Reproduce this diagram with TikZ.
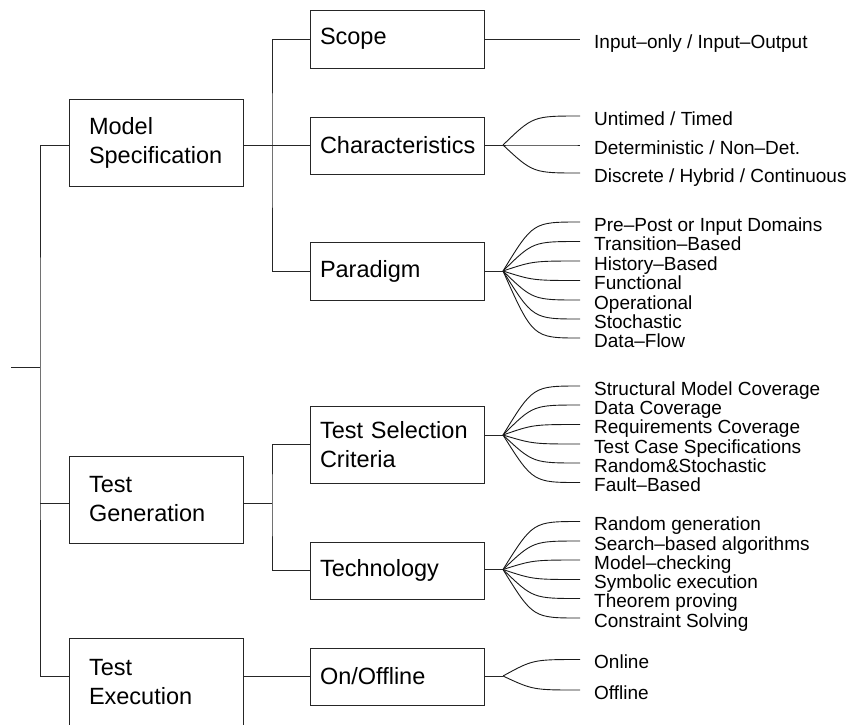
\documentclass[tikz,border=0pt]{standalone}
\usepackage{fontspec}
\setmainfont{Liberation Sans}
\usetikzlibrary{calc}
\tikzset{
  topbox/.style={draw=black!85, line width=1pt, minimum width=174pt, minimum height=87pt,
    text width=134pt, inner xsep=20pt, align=left, font=\fontsize{23.5}{29}\selectfont},
  subbox/.style={draw=black!85, line width=1pt, minimum width=174pt, minimum height=58pt,
    text width=154pt, inner xsep=10pt, align=left, font=\fontsize{23.5}{29}\selectfont},
  leaf/.style={anchor=west, inner xsep=14pt, inner ysep=0pt, text height=18pt, text depth=0pt,
    font=\fontsize{19}{22}\selectfont},
  wire/.style={draw=black!85, line width=1pt},
  fanline/.style={draw=black!90, line width=0.9pt},
}
\begin{document}
\begin{tikzpicture}[x=1pt, y=-1pt]

\newcommand\LEAFX{580}
\newcommand\BEND{30}

\useasboundingbox (0,0) rectangle (853,724);

%% main boxes
\node[topbox] (ms) at (156,142.5) {Model\\Specification};
\node[topbox] (tg) at (156,499.5) {Test\\Generation};
\node[topbox, minimum height=88pt] (te) at (156,682) {Test\\Execution};

%% second level
\node[subbox] (scope) at (397,39) {Scope};
\node[subbox, minimum height=57pt] (chars) at (397,145.5) {Characteristics};
\node[subbox] (para) at (397,271) {Paradigm};
\node[subbox, minimum height=77pt] (tsc) at (397,444.5) {Test Selection\\Criteria};
\node[subbox, minimum height=57pt] (tech) at (397,570.5) {Technology};
\node[subbox, minimum height=57pt] (onoff) at (397,676.5) {On/Offline};

%% trunk
\coordinate (root) at (11,367);
\coordinate (trunk) at (40,367);
\draw[wire] (root) -- (trunk);
\draw[wire] (ms.west |- chars.west) -| (trunk) |- (te.west |- onoff.west);
\coordinate (tg-bus) at (272,503);
\draw[wire] (tg.west |- tg-bus) -- (trunk |- tg-bus);

%% model specification
\coordinate (ms-bus) at (272,145.5);
\draw[wire] (ms.east |- chars.west) -- (chars.west);
\draw[wire] (scope.west) -| (ms-bus) |- (para.west);

%% test generation
\draw[wire] (tg.east |- tg-bus) -- (tg-bus);
\draw[wire] (tsc.west) -| (tg-bus) |- (tech.west);

%% test execution
\draw[wire] (te.east |- onoff.west) -- (onoff.west);

%% scope
\node[leaf] (scope-1) at (\LEAFX,39) {Input--only / Input--Output};
\draw[wire] (scope.east) -- (scope-1.west);

%% characteristics
\coordinate (chars-root) at (503,145);
\draw[wire] (chars.east |- chars-root) -- (chars-root);
\foreach \y/\t [count=\i] in {116/{Untimed / Timed}, 145/{Deterministic / Non--Det.},
  173/{Discrete / Hybrid / Continuous}}{
  \node[leaf] (chars-\i) at (\LEAFX,\y) {\t};
  \draw[fanline] (chars-root) .. controls ($(chars-root |- chars-\i.west)+(\BEND,0)$) .. (chars-\i.west);
}

%% paradigm
\coordinate (para-root) at (503,271);
\draw[wire] (para.east |- para-root) -- (para-root);
\foreach \y/\t [count=\i] in {222/Pre--Post or Input Domains, 241.5/Transition--Based,
  261/History--Based, 280.5/Functional, 300/Operational, 319/Stochastic, 338/Data--Flow}{
  \node[leaf] (para-\i) at (\LEAFX,\y) {\t};
  \draw[fanline] (para-root) .. controls ($(para-root |- para-\i.west)+(\BEND,0)$) .. (para-\i.west);
}

%% test selection criteria
\coordinate (tsc-root) at (503,435);
\draw[wire] (tsc.east |- tsc-root) -- (tsc-root);
\foreach \y/\t [count=\i] in {386/Structural Model Coverage, 405/Data Coverage,
  424.5/Requirements Coverage, 444/Test Case Specifications, 463/Random\&Stochastic,
  482.5/Fault--Based}{
  \node[leaf] (tsc-\i) at (\LEAFX,\y) {\t};
  \draw[fanline] (tsc-root) .. controls ($(tsc-root |- tsc-\i.west)+(\BEND,0)$) .. (tsc-\i.west);
}

%% technology
\coordinate (tech-root) at (503,569.5);
\draw[wire] (tech.east |- tech-root) -- (tech-root);
\foreach \y/\t [count=\i] in {521.5/Random generation, 541/Search--based algorithms,
  560/Model--checking, 579.5/Symbolic execution, 598.5/Theorem proving,
  618/Constraint Solving}{
  \node[leaf] (tech-\i) at (\LEAFX,\y) {\t};
  \draw[fanline] (tech-root) .. controls ($(tech-root |- tech-\i.west)+(\BEND,0)$) .. (tech-\i.west);
}

%% on/offline
\coordinate (onoff-root) at (503,676);
\draw[wire] (onoff.east |- onoff-root) -- (onoff-root);
\foreach \y/\t [count=\i] in {659.5/Online, 690/Offline}{
  \node[leaf] (onoff-\i) at (\LEAFX,\y) {\t};
  \draw[fanline] (onoff-root) .. controls ($(onoff-root |- onoff-\i.west)+(\BEND,0)$) .. (onoff-\i.west);
}

\end{tikzpicture}
\end{document}
